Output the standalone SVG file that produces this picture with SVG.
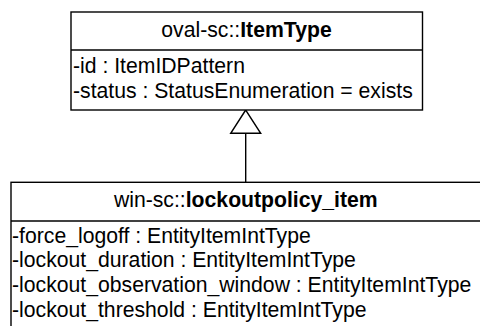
<svg xmlns="http://www.w3.org/2000/svg" width="480" height="326" viewBox="0 0 480 326">
<style>
.box{fill:#fff;stroke:#000;stroke-width:1.4}
.div{stroke:#000;stroke-width:1.4}
text{font-family:"Liberation Sans",Arial,sans-serif;font-size:21.2px;fill:#000}
.t{text-anchor:middle}
.b{font-weight:bold}
.edge{stroke:#000;stroke-width:1.4;fill:none}
.head{fill:#fff;stroke:#000;stroke-width:1.4}
</style>
<rect width="480" height="326" fill="#fff"/>
<g id="connectors">
<line class="edge" x1="245.7" y1="133.3" x2="245.7" y2="182"/>
<polygon class="head" points="245.7,110 230.7,133.3 260.7,133.3"/>
</g>
<g id="ItemType">
<rect class="box" x="71" y="12" width="351.5" height="98"/>
<line class="div" x1="71" y1="50" x2="422.5" y2="50"/>
<text class="t" x="246.5" y="36.7">oval-sc::<tspan class="b">ItemType</tspan></text>
<text x="73" y="72.7">-id : ItemIDPattern</text>
<text x="73" y="97.7">-status : StatusEnumeration = exists</text>
</g>
<g id="lockoutpolicy_item">
<rect class="box" x="11" y="182.3" width="472" height="160"/>
<line class="div" x1="11" y1="221" x2="483" y2="221"/>
<text class="t" x="245.8" y="207.3">win-sc::<tspan class="b">lockoutpolicy_item</tspan></text>
<text x="12" y="242.7">-force_logoff : EntityItemIntType</text>
<text x="12" y="267.4">-lockout_duration : EntityItemIntType</text>
<text x="12" y="292">-lockout_observation_window : EntityItemIntType</text>
<text x="12" y="316.7">-lockout_threshold : EntityItemIntType</text>
</g>
</svg>
